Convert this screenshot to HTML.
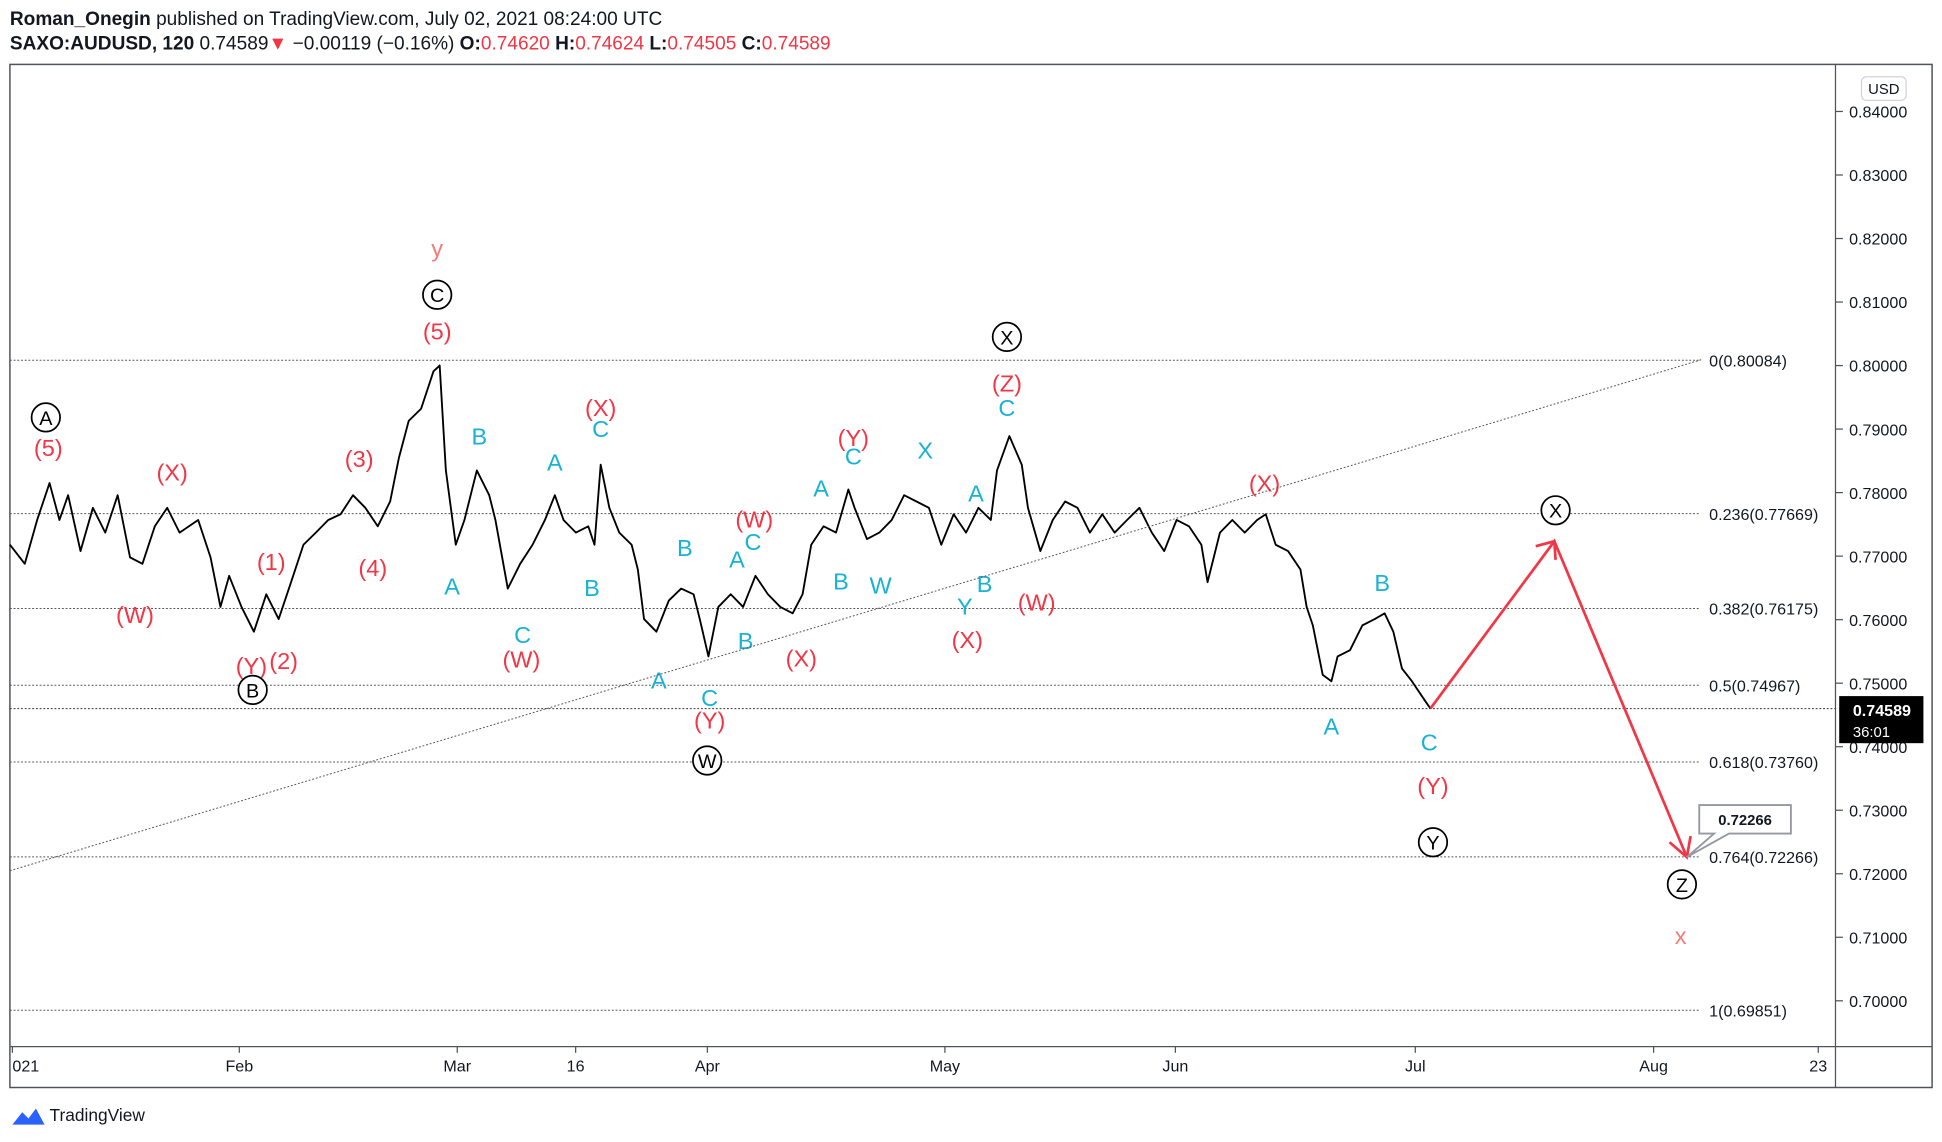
<!DOCTYPE html>
<html><head><meta charset="utf-8"><style>
html,body{margin:0;padding:0;background:#fff;}
svg{display:block;font-family:"Liberation Sans",sans-serif;}
</style></head><body>
<svg id="chart" width="1942" height="1142" viewBox="0 0 1568 922" preserveAspectRatio="none" xmlns="http://www.w3.org/2000/svg">
<rect width="1568" height="922" fill="#fff"/>
<text x="8" y="20" font-size="15.4" fill="#131722"><tspan font-weight="bold">Roman_Onegin</tspan> published on TradingView.com, July 02, 2021 08:24:00 UTC</text>
<text x="8" y="40" font-size="15.4" fill="#131722"><tspan font-weight="bold">SAXO:AUDUSD, 120</tspan> 0.74589<tspan fill="#f23645">▼</tspan> −0.00119 (−0.16%) <tspan font-weight="bold">O:</tspan><tspan fill="#f23645">0.74620</tspan> <tspan font-weight="bold">H:</tspan><tspan fill="#f23645">0.74624</tspan> <tspan font-weight="bold">L:</tspan><tspan fill="#f23645">0.74505</tspan> <tspan font-weight="bold">C:</tspan><tspan fill="#f23645">0.74589</tspan></text>
<rect x="8" y="52" width="1552" height="826" fill="none" stroke="#50535e" stroke-width="1.2"/>
<line x1="1482" y1="52" x2="1482" y2="878" stroke="#50535e"/>
<line x1="8" y1="845" x2="1560" y2="845" stroke="#50535e"/>
<rect x="1503" y="62" width="36" height="19" rx="4" fill="#fff" stroke="#d1d4dc"/>
<text x="1521" y="76" font-size="12" text-anchor="middle" fill="#131722">USD</text>
<g id="yaxis"></g><g id="xaxis"></g><g id="fib"></g><g id="series"></g><g id="labels"></g>
<line x1="8" y1="703" x2="1375" y2="290" stroke="#555" stroke-width="0.8" stroke-dasharray="1.5,1.5"/>
<g stroke="#f23645" stroke-width="2.2" fill="none">
<polyline points="1155,572 1255,437 1362,692"/>
<polyline points="1240,441 1255,437 1256,452"/>
<polyline points="1348,680 1362,692 1365,675"/>
</g>
<g>
<path d="M1372,650 h74 v23 h-50 l-34,19 l22,-19 h-12 z" fill="#fff" stroke="#9598a1" stroke-width="1.5"/>
<text x="1409" y="666" font-size="12" font-weight="bold" text-anchor="middle" fill="#131722">0.72266</text>
</g>
<rect x="1485" y="562" width="68" height="38" fill="#000"/>
<text x="1496" y="578" font-size="13" font-weight="bold" fill="#fff">0.74589</text>
<text x="1496" y="595" font-size="12" fill="#fff">36:01</text>
<g>
<path d="M10,908 l8,-10 l5,5 l6,-8 l7,13 z" fill="#2962ff"/>
<text x="40" y="905" font-size="14" fill="#131722">TradingView</text>
</g>
</svg>
<script>
const NS="http://www.w3.org/2000/svg";
const priceTicks=[0.84,0.83,0.82,0.81,0.80,0.79,0.78,0.77,0.76,0.75,0.74,0.73,0.72,0.71,0.70];
const timeTickDays=[0,31,58.8,73.9,90.7,121,150.4,181,211.4,232.4];
const timeTickLabels=["021","Feb","Mar","16","Apr","May","Jun","Jul","Aug","23"];
const fibLevels=["0","0.236","0.382","0.5","0.618","0.764","1"];
const fibPrices=[0.80084,0.77669,0.76175,0.74967,0.73760,0.72266,0.69851];
const seriesDays=[1.74,3.63,5.21,6.79,8.06,9.16,10.74,12.32,13.90,15.48,17.06,18.64,20.22,21.80,23.38,25.75,27.33,28.59,29.70,31.28,32.86,34.44,36.02,37.60,39.18,40.76,42.34,43.92,45.50,47.08,48.66,50.24,51.34,52.61,54.19,55.77,56.56,57.35,58.61,59.72,61.30,62.88,63.67,65.24,66.82,68.40,69.98,71.25,72.35,73.93,75.51,76.30,77.09,78.20,79.46,81.04,81.83,82.62,84.20,85.78,87.36,88.94,89.73,90.84,92.10,93.68,95.26,96.84,98.42,100.0,101.58,102.84,103.95,105.53,107.11,108.69,109.48,111.06,112.64,114.22,115.80,117.38,118.96,120.54,122.12,123.70,125.28,126.86,127.65,129.23,130.81,131.60,133.18,134.76,136.34,137.91,139.49,141.07,142.65,144.23,145.81,147.39,148.97,150.55,152.13,153.71,154.50,156.08,157.66,159.24,160.82,161.93,163.19,164.77,166.35,167.14,167.93,169.19,170.30,171.09,172.67,174.25,175.83,177.09,178.20,179.30,180.57,182.15,182.94];
const seriesPrices=[0.7718,0.7688,0.7757,0.7815,0.7757,0.7796,0.7708,0.7776,0.7737,0.7796,0.7698,0.7688,0.7747,0.7776,0.7737,0.7757,0.7698,0.7620,0.7669,0.7620,0.7581,0.7640,0.7601,0.7659,0.7718,0.7737,0.7757,0.7766,0.7796,0.7776,0.7747,0.7786,0.7854,0.7913,0.7932,0.7991,0.8000,0.7835,0.7718,0.7757,0.7835,0.7796,0.7757,0.7649,0.7688,0.7718,0.7757,0.7796,0.7757,0.7737,0.7747,0.7718,0.7844,0.7776,0.7737,0.7718,0.7679,0.7601,0.7581,0.7630,0.7649,0.7640,0.7601,0.7542,0.7620,0.7640,0.7620,0.7669,0.7640,0.7620,0.7610,0.7640,0.7718,0.7747,0.7737,0.7805,0.7776,0.7727,0.7737,0.7757,0.7796,0.7786,0.7776,0.7718,0.7766,0.7737,0.7776,0.7757,0.7835,0.7889,0.7844,0.7776,0.7708,0.7757,0.7786,0.7776,0.7737,0.7766,0.7737,0.7757,0.7776,0.7737,0.7708,0.7757,0.7747,0.7718,0.7659,0.7737,0.7757,0.7737,0.7757,0.7766,0.7718,0.7708,0.7679,0.7620,0.7591,0.7513,0.7503,0.7542,0.7552,0.7591,0.7601,0.7610,0.7581,0.7523,0.7503,0.7474,0.7460];
const yOf=p=>90+(0.84-p)*5128.6;
const xOf=d=>-3+d*6.33;
function mk(tag,parent,attrs){const e=document.createElementNS(NS,tag);for(const k in attrs)e.setAttribute(k,attrs[k]);document.getElementById(parent).appendChild(e);return e;}
priceTicks.forEach(p=>{
 const y=yOf(p);
 const t=mk('line','yaxis',{x1:1482,x2:1488,y1:y,y2:y,stroke:'#50535e'});
 
 
 const l=mk('text','yaxis',{x:1493,y:y+5,'font-size':13,fill:'#131722'});
 
 
 l.textContent=p.toFixed(5);
});
timeTickDays.forEach((d,i)=>{
 const x=Math.max(xOf(d),10);
 const t=mk('line','xaxis',{x1:x,x2:x,y1:845,y2:850,stroke:'#50535e'});
 
 
 const l=mk('text','xaxis',{x:x,y:865,'font-size':13,fill:'#131722','text-anchor':i==0?'start':'middle'});
 
 
 l.textContent=timeTickLabels[i];
});
fibPrices.forEach((p,i)=>{
 const y=yOf(p);
 const ln=mk('line','fib',{x1:8,x2:1372,y1:y,y2:y,stroke:'#555','stroke-width':0.8,'stroke-dasharray':'1.5,1.5'});
 
 
 const tx=mk('text','fib',{x:1380,y:y+5,'font-size':13,fill:'#131722'});
 
 
 tx.textContent=fibLevels[i]+'('+p.toFixed(5)+')';
});
const last=seriesPrices[seriesPrices.length-1];
const cl=mk('line','fib',{x1:8,x2:1482,y1:yOf(last),y2:yOf(last),stroke:'#333','stroke-width':0.8,'stroke-dasharray':'1.5,1.5'});


const pts=seriesPrices.map((p,i)=>xOf(seriesDays[i]).toFixed(1)+','+yOf(p).toFixed(1)).join(' ');
const pl=mk('polyline','series',{points:pts,fill:'none',stroke:'#000','stroke-width':1.5,'stroke-linejoin':'round'});


const R='#f23645',C='#17b2d4',P='#f47c7c';
const labels=[
[353,200,'y',P],[353,267,'(5)',R],[39,361,'(5)',R],[139,381,'(X)',R],[109,496,'(W)',R],[290,370,'(3)',R],[301,458,'(4)',R],[219,453,'(1)',R],[203,537,'(Y)',R],[229,533,'(2)',R],[485,329,'(X)',R],[421,532,'(W)',R],[609,419,'(W)',R],[573,581,'(Y)',R],[647,531,'(X)',R],[689,353,'(Y)',R],[781,516,'(X)',R],[813,309,'(Z)',R],[837,486,'(W)',R],[1021,390,'(X)',R],[1157,634,'(Y)',R],[1357,755,'x',P],
[387,352,'B',C],[365,473,'A',C],[448,373,'A',C],[485,346,'C',C],[478,474,'B',C],[422,512,'C',C],[553,442,'B',C],[595,451,'A',C],[608,437,'C',C],[532,549,'A',C],[573,563,'C',C],[602,517,'B',C],[663,394,'A',C],[689,368,'C',C],[679,469,'B',C],[711,472,'W',C],[747,363,'X',C],[788,398,'A',C],[813,329,'C',C],[779,489,'Y',C],[795,471,'B',C],[1116,470,'B',C],[1075,586,'A',C],[1154,599,'C',C]];
labels.forEach(a=>{
 const t=mk('text','labels',{x:a[0],y:a[1]+7,'font-size':19,fill:a[3],'text-anchor':'middle'});
 
 
 t.textContent=a[2];
});
const circled=[[37,337,'A'],[353,238,'C'],[204,557,'B'],[571,614,'W'],[813,272,'X'],[1157,680,'Y'],[1256,412,'X'],[1358,714,'Z']];
circled.forEach(a=>{
 const c=mk('circle','labels',{cx:a[0],cy:a[1],r:11.5,fill:'#fff',stroke:'#000','stroke-width':1.4});
 
 
 const t=mk('text','labels',{x:a[0],y:a[1]+6,'font-size':16,fill:'#000','text-anchor':'middle'});
 
 
 t.textContent=a[2];
});
</script>
</body></html>
